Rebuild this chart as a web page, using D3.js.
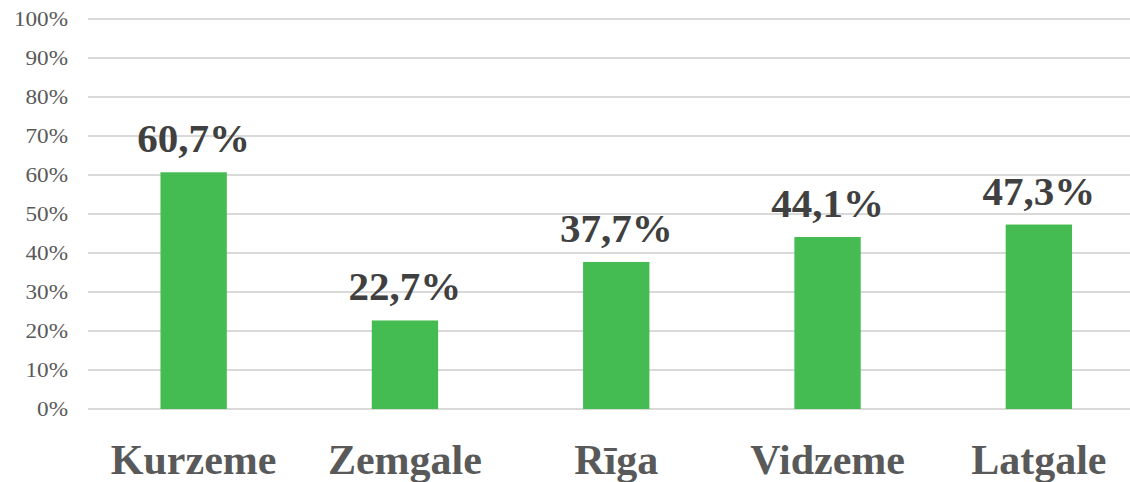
<!DOCTYPE html>
<html>
<head>
<meta charset="utf-8">
<script src="https://cdn.jsdelivr.net/npm/d3@7"></script>
<style>
  body { margin: 0; background: #fff; }
  text { font-family: "Liberation Serif", "Times New Roman", serif; }
</style>
</head>
<body>
<svg id="chart" width="1130" height="482"></svg>
<script>
// regions and their shares
const regions = ["Kurzeme", "Zemgale", "Rīga", "Vidzeme", "Latgale"];
const shares = [60.7, 22.7, 37.7, 44.1, 47.3];
const yTicks = [0, 10, 20, 30, 40, 50, 60, 70, 80, 90, 100];

const svg = d3.select("#chart");
const plotLeft = 88;
const step = 211.3;

const x = d3.scaleBand()
    .domain(regions)
    .range([plotLeft, plotLeft + step * regions.length])
    .paddingInner(0.686)
    .paddingOuter(0.343);

const y = d3.scaleLinear()
    .domain([0, 100])
    .range([409, 19]);

// gridlines
svg.append("g")
    .selectAll("line")
    .data(yTicks)
    .join("line")
    .attr("x1", plotLeft)
    .attr("x2", 1130)
    .attr("y1", d => y(d))
    .attr("y2", d => y(d))
    .attr("stroke", "#d9d9d9")
    .attr("stroke-width", 2);

// y tick labels (the source font runs a bit wider, so stretch them)
svg.append("g")
    .selectAll("text")
    .data(yTicks)
    .join("text")
    .attr("transform", d => `translate(68,${y(d) + 7}) scale(1.16,1)`)
    .attr("text-anchor", "end")
    .attr("font-size", 20)
    .attr("fill", "#595959")
    .text(d => d + "%");

// bars
svg.append("g")
    .selectAll("rect")
    .data(shares)
    .join("rect")
    .attr("x", (d, i) => x(regions[i]))
    .attr("y", d => y(d))
    .attr("width", x.bandwidth())
    .attr("height", d => y(0) - y(d))
    .attr("fill", "#45bc51");

// value labels above the bars
svg.append("g")
    .selectAll("text")
    .data(shares)
    .join("text")
    .attr("x", (d, i) => x(regions[i]) + x.bandwidth() / 2)
    .attr("y", d => y(d) - 20)
    .attr("text-anchor", "middle")
    .attr("font-size", 41)
    .attr("font-weight", "bold")
    .attr("fill", "#404040")
    .text(d => d.toFixed(1).replace(".", ",") + "%");

// category labels
svg.append("g")
    .selectAll("text")
    .data(regions)
    .join("text")
    .attr("x", d => x(d) + x.bandwidth() / 2)
    .attr("y", 474)
    .attr("text-anchor", "middle")
    .attr("font-size", 42)
    .attr("font-weight", "bold")
    .attr("fill", "#595959")
    .text(d => d);
</script>
</body>
</html>
